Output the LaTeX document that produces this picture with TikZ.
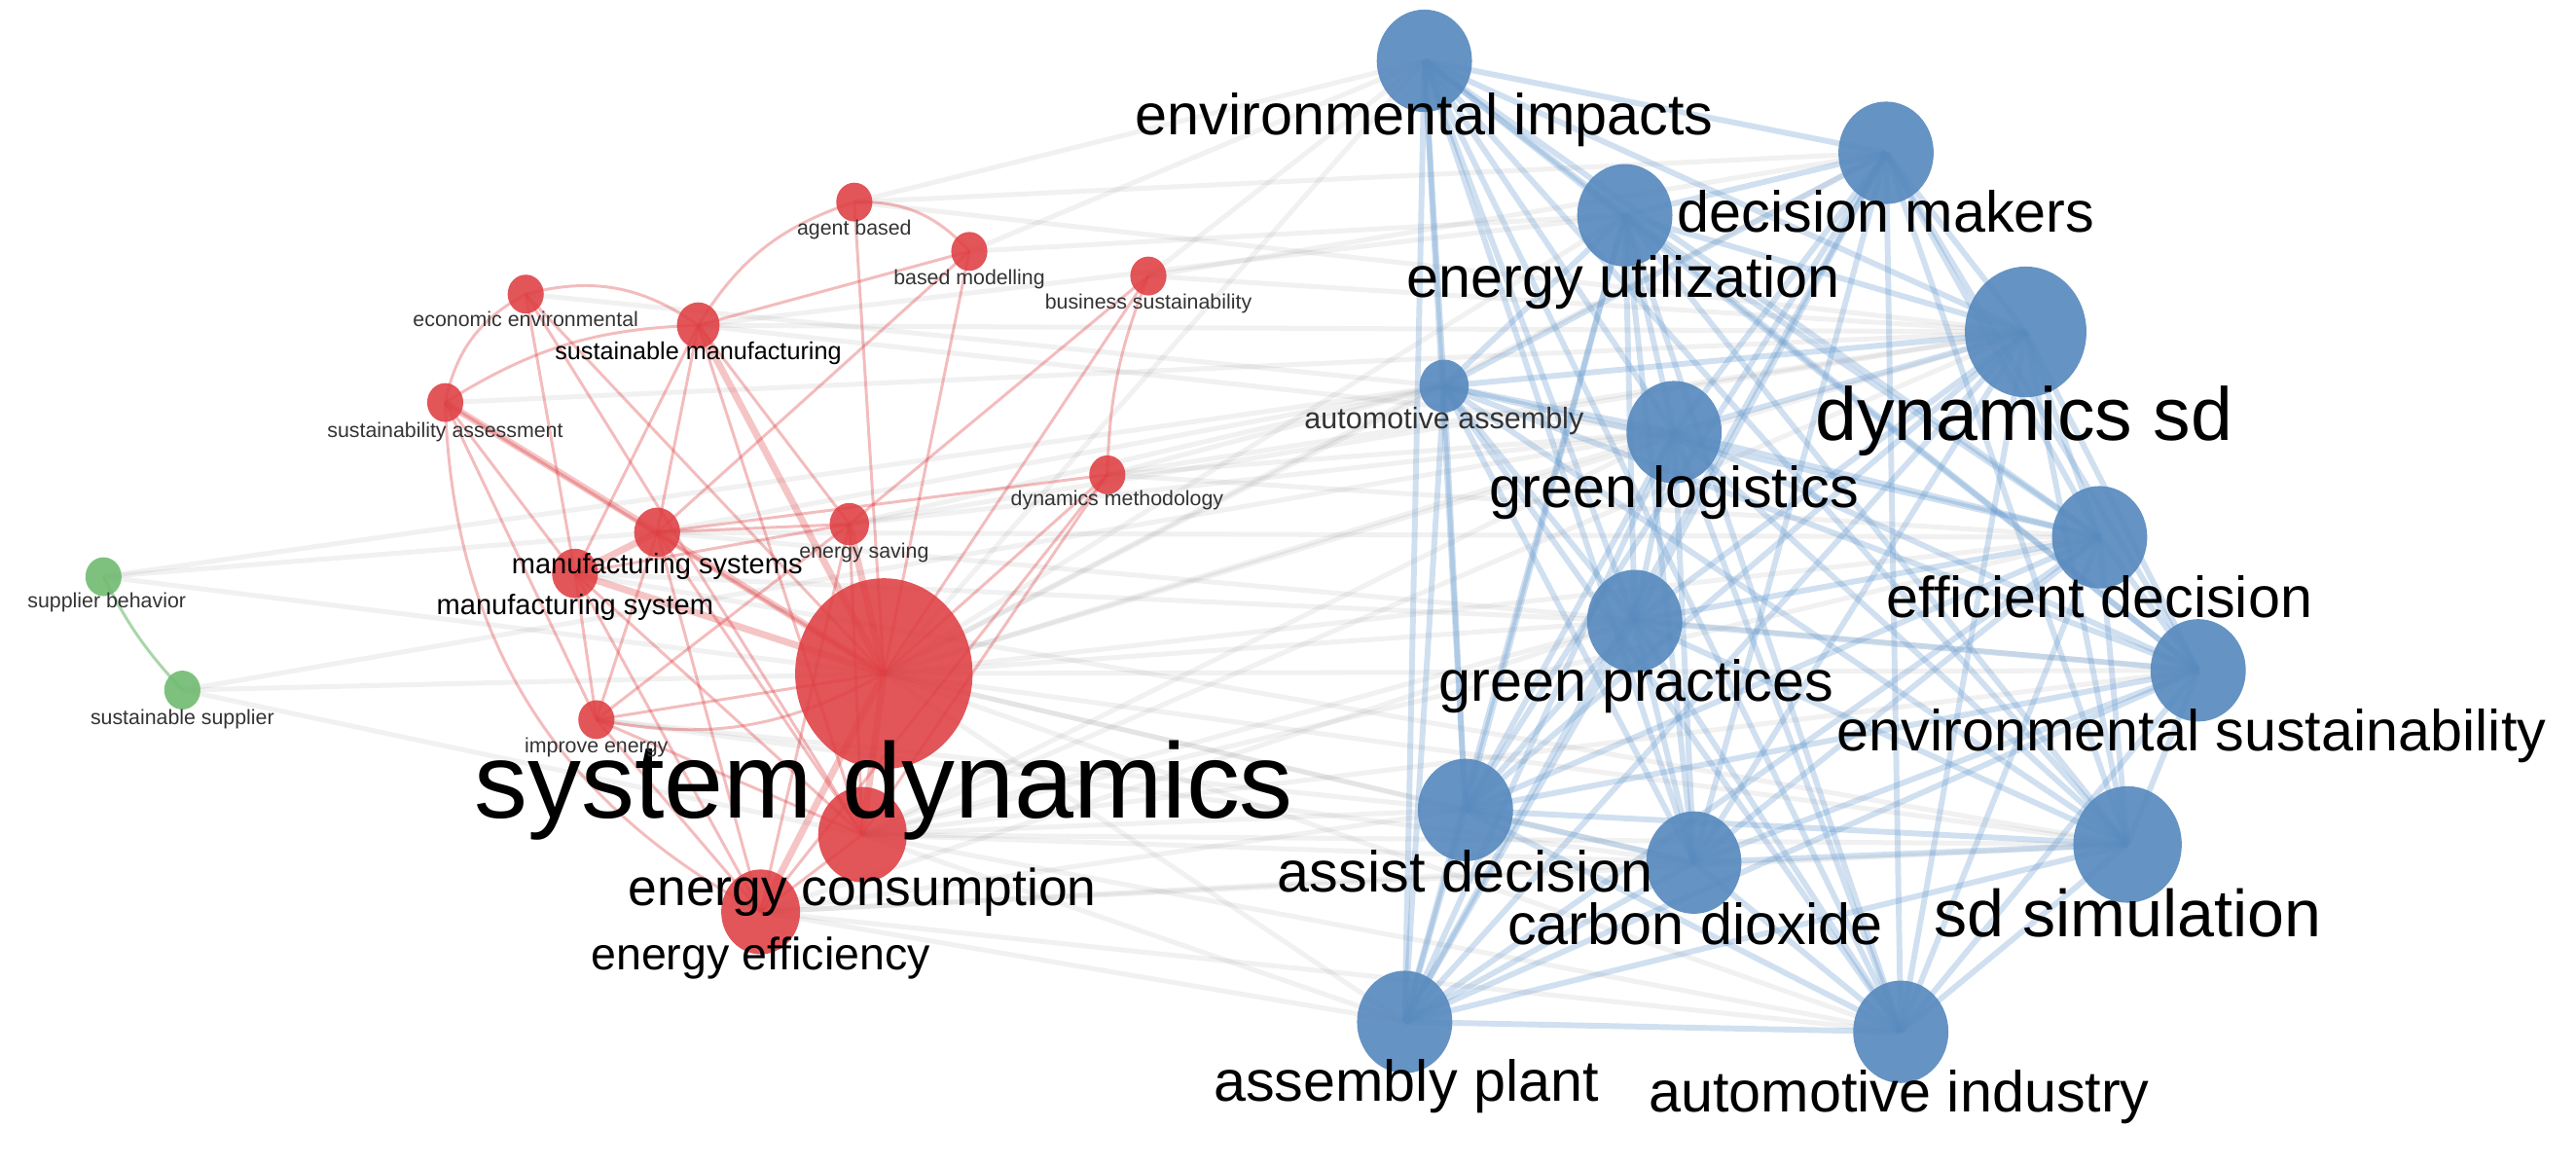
\documentclass[tikz,border=0pt]{standalone}
\usepackage{fontspec}
\setmainfont{Liberation Sans}
\usetikzlibrary{backgrounds,shapes.geometric}
\definecolor{redN}{RGB}{222,62,66}
\definecolor{blueN}{RGB}{88,138,190}
\definecolor{greenN}{RGB}{112,186,112}
\definecolor{blueE}{RGB}{100,152,205}
\tikzset{
  kw/.style={ellipse,inner sep=0pt,minimum width=#1*0.04cm,minimum height=#1*0.043cm},
  rk/.style={kw=#1,fill=redN,fill opacity=0.88,draw=none},
  bk/.style={kw=#1,fill=blueN,fill opacity=0.92,draw=none},
  gk/.style={kw=#1,fill=greenN,fill opacity=0.9,draw=none},
  lab/.style={anchor=base,inner sep=0pt,text=black},
  slab/.style={lab,text=black!80,font=\fontsize{7.2}{8}\selectfont},
  blab/.style={lab,font=\fontsize{20}{22}\selectfont},
  redE/.style={draw=redN,draw opacity=0.35,line width=1pt},
  redT/.style={draw=redN,draw opacity=0.3,line width=2.4pt},
  bluE/.style={draw=blueE,draw opacity=0.3,line width=2pt},
  grayE/.style={draw=black!55,draw opacity=0.1,line width=1.7pt},
  greenE/.style={draw=greenN,draw opacity=0.6,line width=1pt}
}
\begin{document}
\begin{tikzpicture}[x=0.02cm,y=-0.02cm]
\useasboundingbox (0,0) rectangle (1568,708);
% ---------- nodes ----------
% red
\node[rk=54] (sysdyn) at (538,410) {};
\node[rk=27] (encons) at (525,508) {};
\node[rk=24] (eneff) at (463,555) {};
\node[rk=11] (agent) at (520,123) {};
\node[rk=11] (basedm) at (590,153) {};
\node[rk=11] (bussus) at (699,168) {};
\node[rk=11] (econ) at (320,179) {};
\node[rk=13] (susman) at (425,198) {};
\node[rk=11] (susass) at (271,245) {};
\node[rk=11] (dynmeth) at (674,289) {};
\node[rk=12] (ensav) at (517,319) {};
\node[rk=14] (mansyss) at (400,324) {};
\node[rk=14] (mansys) at (350,349) {};
\node[rk=11] (impen) at (363,438) {};
% green
\node[gk=11] (supbeh) at (63,351) {};
\node[gk=11] (sussup) at (111,420) {};
% blue
\node[bk=29] (envimp) at (867,37) {};
\node[bk=29] (decmak) at (1148,93) {};
\node[bk=29] (enutil) at (989,131) {};
\node[bk=37] (dynsd) at (1233,202) {};
\node[bk=15] (autass) at (879,235) {};
\node[bk=29] (greenlog) at (1019,263) {};
\node[bk=29] (effdec) at (1278,327) {};
\node[bk=29] (greenprac) at (995,378) {};
\node[bk=29] (envsus) at (1338,408) {};
\node[bk=29] (assdec) at (892,493) {};
\node[bk=29] (carbon) at (1031,525) {};
\node[bk=33] (sdsim) at (1295,514) {};
\node[bk=29] (assplant) at (855,622) {};
\node[bk=29] (autind) at (1157,628) {};
% ---------- edges ----------
\begin{scope}[on background layer]
% gray inter-cluster edges
\foreach \b in {envimp,decmak,enutil,dynsd,autass,greenlog,effdec,greenprac,envsus,assdec,carbon,sdsim,assplant,autind}
  \draw[grayE] (sysdyn.center) -- (\b.center);
\foreach \b in {assdec,carbon,assplant,autind,sdsim,greenprac,envsus,greenlog,dynsd,effdec}
  \draw[grayE] (encons.center) -- (\b.center);
\foreach \b in {assplant,assdec,autind,carbon,sdsim,greenprac}
  \draw[grayE] (eneff.center) -- (\b.center);
\foreach \a/\b in {susman/dynsd,susman/enutil,susman/greenlog,agent/envimp,agent/dynsd,agent/decmak,
  basedm/envimp,basedm/enutil,bussus/dynsd,bussus/envimp,bussus/decmak,dynmeth/greenlog,dynmeth/effdec,
  dynmeth/dynsd,dynmeth/autass,ensav/greenlog,ensav/dynsd,ensav/autass,mansyss/effdec,mansyss/envsus,
  mansyss/autass,mansys/sdsim,mansys/greenprac,impen/assdec,impen/carbon,supbeh/sysdyn,supbeh/autass,
  supbeh/mansyss,sussup/sysdyn,sussup/encons,sussup/greenlog,econ/autass,susass/dynsd}
  \draw[grayE] (\a.center) -- (\b.center);
% blue cluster
\foreach \a [count=\i] in {envimp,decmak,enutil,dynsd,autass,greenlog,effdec,greenprac,envsus,assdec,carbon,sdsim,assplant,autind}
  \foreach \b [count=\j] in {envimp,decmak,enutil,dynsd,autass,greenlog,effdec,greenprac,envsus,assdec,carbon,sdsim,assplant,autind}
    {\ifnum\j>\i \draw[bluE] (\a.center) -- (\b.center);\fi}
% red cluster
\foreach \b in {encons,eneff,susman,ensav,mansyss,mansys}
  \draw[redT] (sysdyn.center) -- (\b.center);
\foreach \b in {agent,basedm,bussus,econ,susass,dynmeth,impen}
  \draw[redE] (sysdyn.center) -- (\b.center);
\draw[redE] (agent.center) to[bend right=20] (susman.center);
\draw[redE] (agent.center) to[bend left=25] (basedm.center);
\draw[redE] (econ.center) to[bend left=25] (susman.center);
\draw[redE] (econ.center) to[bend right=25] (susass.center);
\draw[redE] (susman.center) to[bend right=15] (susass.center);
\draw[redE] (susass.center) to[bend right=30] (eneff.center);
\draw[redE] (bussus.center) to[bend right=10] (dynmeth.center);
\draw[redE] (impen.center) to[bend right=20] (sysdyn.center);
\foreach \a/\b in {basedm/susman,basedm/mansyss,bussus/ensav,econ/mansys,econ/encons,susman/mansys,
  susman/mansyss,susman/ensav,susman/encons,susass/mansys,susass/impen,mansyss/ensav,mansyss/encons,
  mansyss/eneff,mansyss/impen,mansys/impen,mansys/eneff,mansys/encons,mansys/ensav,impen/ensav,
  impen/eneff,impen/encons,ensav/encons,ensav/eneff,dynmeth/mansyss,dynmeth/encons,dynmeth/eneff,encons/eneff}
  \draw[redE] (\a.center) -- (\b.center);
\draw[redT] (susass.center) -- (mansyss.center);
\draw[redT] (mansyss.center) -- (mansys.center);
\draw[greenE] (supbeh.center) to[bend right=8] (sussup.center);
\end{scope}
% ---------- labels ----------
\node[lab,font=\fontsize{37}{40}\selectfont] (sysdynL) at (538,498) {system dynamics};
\node[lab,font=\fontsize{18}{20}\selectfont] (enconsL) at (525,551) {energy consumption};
\node[lab,font=\fontsize{15.7}{18}\selectfont] (eneffL) at (463,590) {energy efficiency};
\node[slab] (agentL) at (520,143) {agent based};
\node[slab] (basedmL) at (590,173) {based modelling};
\node[slab] (bussusL) at (699,188) {business sustainability};
\node[slab] (econL) at (320,199) {economic environmental};
\node[lab,font=\fontsize{8.5}{10}\selectfont] (susmanL) at (425,219) {sustainable manufacturing};
\node[slab] (susassL) at (271,266) {sustainability assessment};
\node[slab] (dynmethL) at (680,308) {dynamics methodology};
\node[slab] (ensavL) at (526,340) {energy saving};
\node[lab,font=\fontsize{9.8}{11}\selectfont] (mansyssL) at (400,349) {manufacturing systems};
\node[lab,font=\fontsize{9.8}{11}\selectfont] (mansysL) at (350,374) {manufacturing system};
\node[slab] (impenL) at (363,458) {improve energy};
\node[slab] (supbehL) at (65,370) {supplier behavior};
\node[slab] (sussupL) at (111,441) {sustainable supplier};
\node[blab] (envimpL) at (867,82) {environmental impacts};
\node[blab] (decmakL) at (1148,141) {decision makers};
\node[blab] (enutilL) at (988,181) {energy utilization};
\node[lab,font=\fontsize{26}{28}\selectfont] (dynsdL) at (1232,268) {dynamics sd};
\node[lab,font=\fontsize{10.3}{12}\selectfont,text=black!80] (autassL) at (879,261) {automotive assembly};
\node[blab] (greenlogL) at (1019,309) {green logistics};
\node[blab] (effdecL) at (1278,376) {efficient decision};
\node[blab] (greenpracL) at (996,427) {green practices};
\node[blab] (envsusL) at (1334,457) {environmental sustainability};
\node[blab] (assdecL) at (892,543) {assist decision};
\node[blab] (carbonL) at (1032,575) {carbon dioxide};
\node[lab,font=\fontsize{23}{25}\selectfont] (sdsimL) at (1295,570) {sd simulation};
\node[blab] (assplantL) at (856,670) {assembly plant};
\node[blab] (autindL) at (1156,677) {automotive industry};
\end{tikzpicture}
\end{document}
